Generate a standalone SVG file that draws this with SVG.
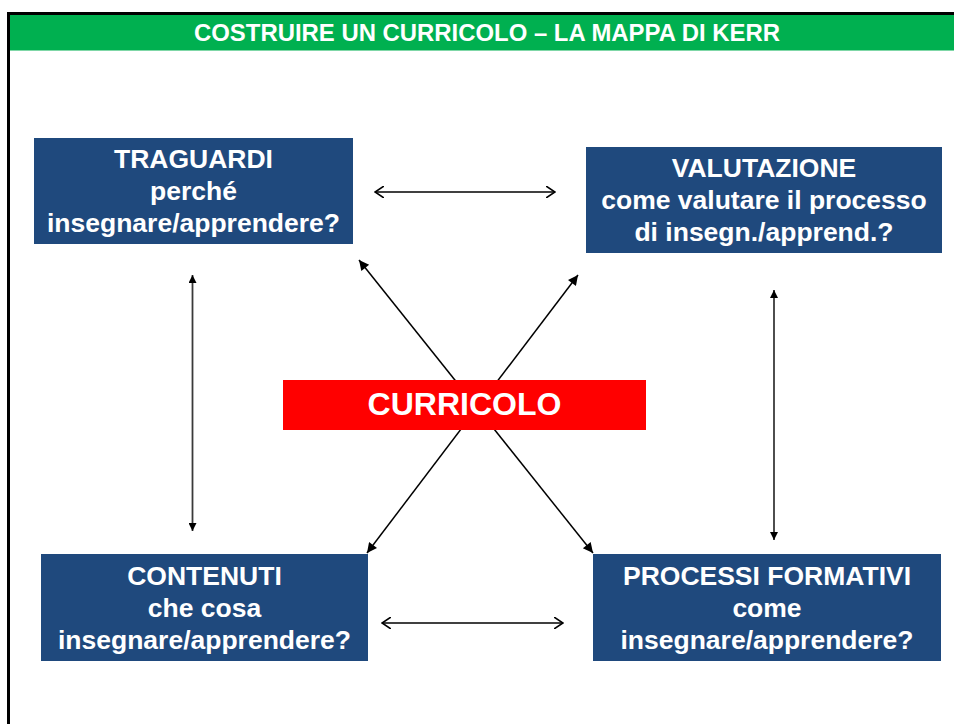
<svg xmlns="http://www.w3.org/2000/svg" width="954" height="724" viewBox="0 0 954 724">
<defs>
<style>
.box{fill:#1F497D}
.t{font-family:"Liberation Sans",Arial,sans-serif;font-weight:bold;fill:#FFFFFF;text-anchor:middle}
.nt{font-size:26.5px}
.ln{stroke:#000;stroke-width:1.5;fill:none}
.vl{stroke:#3a3a3a;stroke-width:1.8;fill:none}
</style>
<marker id="open" viewBox="0 0 10 12" refX="9" refY="6" markerWidth="10" markerHeight="12" markerUnits="userSpaceOnUse" orient="auto-start-reverse">
<path d="M0,0 L9,6 L0,12" fill="none" stroke="#000" stroke-width="1.6"/>
</marker>
<marker id="tri" viewBox="0 0 10 10" refX="10" refY="5" markerWidth="8" markerHeight="8" markerUnits="userSpaceOnUse" orient="auto-start-reverse">
<path d="M0,0 L10,5 L0,10 Z" fill="#000"/>
</marker>
<marker id="big" viewBox="0 0 10 10" refX="10" refY="5" markerWidth="12" markerHeight="10" markerUnits="userSpaceOnUse" orient="auto-start-reverse">
<path d="M0,0 L10,5 L0,10 Z" fill="#000"/>
</marker>
</defs>
<rect x="0" y="0" width="954" height="724" fill="#FFFFFF"/>
<g id="frame">
<path d="M8.5,724 L8.5,13.5 L954,13.5" fill="none" stroke="#000" stroke-width="3"/>
<rect x="10" y="15" width="944" height="35.5" fill="#00B050"/>
<text class="t" x="487" y="41" font-size="23.5" textLength="586" lengthAdjust="spacingAndGlyphs">COSTRUIRE UN CURRICOLO – LA MAPPA DI KERR</text>
</g>
<g id="connectors">
<line class="ln" x1="375" y1="192" x2="555" y2="192" marker-start="url(#open)" marker-end="url(#open)"/>
<line class="ln" x1="382" y1="623" x2="563" y2="623" marker-start="url(#open)" marker-end="url(#open)"/>
<line class="vl" x1="192.5" y1="275" x2="192.5" y2="531" marker-start="url(#tri)" marker-end="url(#tri)"/>
<line class="vl" x1="774" y1="290" x2="774" y2="540" marker-start="url(#tri)" marker-end="url(#tri)"/>
<line class="ln" x1="359" y1="260" x2="593" y2="553" marker-start="url(#big)" marker-end="url(#big)"/>
<line class="ln" x1="578" y1="275" x2="367" y2="553" marker-start="url(#big)" marker-end="url(#big)"/>
</g>
<g id="curricolo">
<rect x="283" y="380" width="363" height="50" fill="#FF0000"/>
<text class="t" x="464.5" y="415" font-size="32">CURRICOLO</text>
</g>
<g id="traguardi">
<rect class="box" x="34" y="138" width="319" height="106"/>
<text class="t nt" x="193.5" y="168">TRAGUARDI</text>
<text class="t nt" x="193.5" y="200">perché</text>
<text class="t nt" x="193.5" y="232">insegnare/apprendere?</text>
</g>
<g id="valutazione">
<rect class="box" x="586" y="147" width="356" height="106"/>
<text class="t nt" x="764" y="177">VALUTAZIONE</text>
<text class="t nt" x="764" y="209">come valutare il processo</text>
<text class="t nt" x="764" y="241">di insegn./apprend.?</text>
</g>
<g id="contenuti">
<rect class="box" x="41" y="554" width="327" height="107"/>
<text class="t nt" x="204.5" y="585">CONTENUTI</text>
<text class="t nt" x="204.5" y="617">che cosa</text>
<text class="t nt" x="204.5" y="649">insegnare/apprendere?</text>
</g>
<g id="processi">
<rect class="box" x="593" y="554" width="348" height="107"/>
<text class="t nt" x="767" y="585">PROCESSI FORMATIVI</text>
<text class="t nt" x="767" y="617">come</text>
<text class="t nt" x="767" y="649">insegnare/apprendere?</text>
</g>
</svg>
